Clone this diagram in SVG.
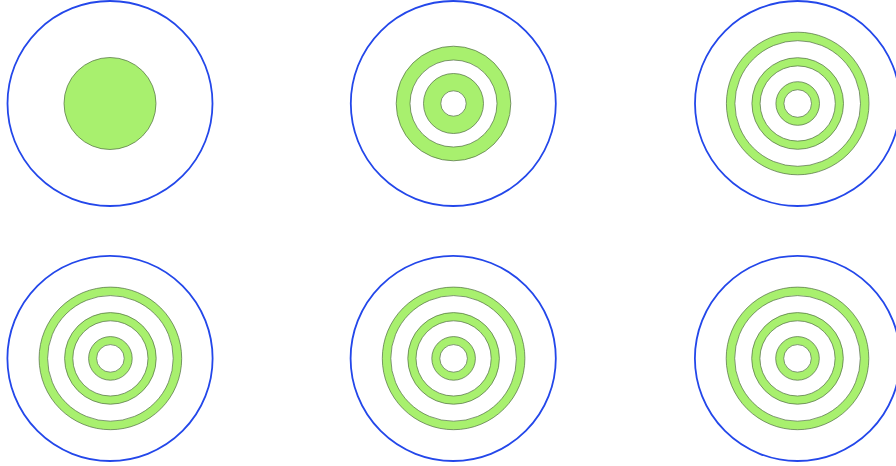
<svg xmlns="http://www.w3.org/2000/svg" width="896" height="466" viewBox="0 0 896 466">
<defs>
<style>
.outer{fill:none;stroke:#2347ea;stroke-width:1.8}
.band{fill:#a8f06e;stroke:#4f6b40;stroke-width:0.7;fill-rule:evenodd}
</style>
<g id="rings3">
<path class="band" d="M-71.3,0a71.3,71.3 0 1,0 142.6,0a71.3,71.3 0 1,0 -142.6,0ZM-62.8,0a62.8,62.8 0 1,0 125.6,0a62.8,62.8 0 1,0 -125.6,0Z"/>
<path class="band" d="M-45.8,0a45.8,45.8 0 1,0 91.6,0a45.8,45.8 0 1,0 -91.6,0ZM-37.6,0a37.6,37.6 0 1,0 75.2,0a37.6,37.6 0 1,0 -75.2,0Z"/>
<path class="band" d="M-21.8,0a21.8,21.8 0 1,0 43.6,0a21.8,21.8 0 1,0 -43.6,0ZM-13.8,0a13.8,13.8 0 1,0 27.6,0a13.8,13.8 0 1,0 -27.6,0Z"/>
</g>
</defs>
<rect width="896" height="466" fill="#ffffff"/>
<g id="panel1">
<circle class="outer" cx="110" cy="103.5" r="102.5"/>
<circle cx="110" cy="103.5" r="46" fill="#a8f06e" stroke="#4f6b40" stroke-width="0.7"/>
</g>
<g id="panel2">
<circle class="outer" cx="453.3" cy="103.5" r="102.5"/>
<path class="band" transform="translate(453.5,103.5)" d="M-57.3,0a57.3,57.3 0 1,0 114.6,0a57.3,57.3 0 1,0 -114.6,0ZM-43.5,0a43.5,43.5 0 1,0 87,0a43.5,43.5 0 1,0 -87,0Z"/>
<path class="band" transform="translate(453.5,103.5)" d="M-30,0a30,30 0 1,0 60,0a30,30 0 1,0 -60,0ZM-12.7,0a12.7,12.7 0 1,0 25.4,0a12.7,12.7 0 1,0 -25.4,0Z"/>
</g>
<g id="panel3">
<circle class="outer" cx="797.5" cy="103.5" r="102.5"/>
<use href="#rings3" transform="translate(797.7,103.5)"/>
</g>
<g id="panel4">
<circle class="outer" cx="110" cy="358.4" r="102.6"/>
<use href="#rings3" transform="translate(110.4,358.4)"/>
</g>
<g id="panel5">
<circle class="outer" cx="453.2" cy="358.4" r="102.6"/>
<use href="#rings3" transform="translate(453.6,358.4)"/>
</g>
<g id="panel6">
<circle class="outer" cx="797.5" cy="358.4" r="102.6"/>
<use href="#rings3" transform="translate(797.5,358.4)"/>
</g>
<g id="connectors"/>
</svg>
